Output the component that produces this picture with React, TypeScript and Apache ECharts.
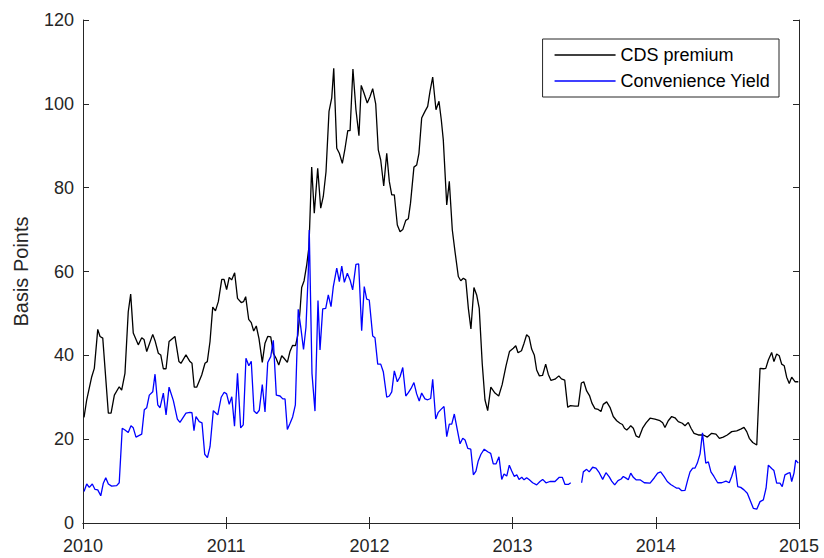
import React, { useEffect, useRef } from "react";
import * as echarts from "echarts";

const xTickYears = [2010, 2011, 2012, 2013, 2014, 2015];
const yTickValues = [0, 20, 40, 60, 80, 100, 120];
const seriesNames = ["CDS premium", "Convenience Yield"];
const yAxisTitle = "Basis Points";

// [decimal year, basis points]
const cdsPremium: [number, number][] = [
  [2010.007, 25.2], [2010.026, 29.4], [2010.061, 34.9], [2010.079, 36.9], [2010.103, 46.2],
  [2010.119, 44.5], [2010.138, 44.1], [2010.177, 26.2], [2010.196, 26.2], [2010.219, 30.5],
  [2010.253, 32.5], [2010.270, 31.7], [2010.293, 35.7], [2010.316, 50.4], [2010.333, 54.6],
  [2010.351, 45.3], [2010.386, 42.5], [2010.410, 44.2], [2010.426, 43.8], [2010.445, 40.9],
  [2010.487, 45.0], [2010.503, 43.5], [2010.526, 40.5], [2010.543, 40.1], [2010.561, 36.8],
  [2010.580, 36.8], [2010.601, 43.3], [2010.642, 44.5], [2010.670, 38.5], [2010.684, 38.1],
  [2010.719, 40.1], [2010.747, 38.5], [2010.761, 38.1], [2010.777, 32.4], [2010.794, 32.4],
  [2010.829, 35.3], [2010.852, 38.1], [2010.868, 38.5], [2010.887, 43.3], [2010.906, 51.5],
  [2010.925, 50.6], [2010.945, 52.8], [2010.969, 58.1], [2010.985, 58.1], [2011.003, 55.7],
  [2011.021, 58.6], [2011.038, 58.0], [2011.059, 59.7], [2011.079, 53.6], [2011.105, 52.6],
  [2011.121, 52.8], [2011.136, 54.0], [2011.157, 48.6], [2011.175, 47.8], [2011.192, 45.8],
  [2011.210, 47.0], [2011.229, 44.0], [2011.252, 38.3], [2011.271, 42.9], [2011.290, 44.5],
  [2011.311, 44.4], [2011.329, 40.5], [2011.348, 39.3], [2011.367, 37.7], [2011.388, 39.9],
  [2011.404, 39.3], [2011.427, 38.3], [2011.446, 41.0], [2011.464, 42.4], [2011.484, 42.3],
  [2011.500, 44.8], [2011.515, 50.4], [2011.527, 56.2], [2011.544, 57.8], [2011.562, 61.5],
  [2011.578, 65.9], [2011.597, 84.9], [2011.615, 73.9], [2011.639, 84.6], [2011.660, 75.1],
  [2011.678, 77.9], [2011.697, 83.8], [2011.718, 98.2], [2011.737, 101.4], [2011.751, 108.5],
  [2011.772, 89.4], [2011.790, 88.2], [2011.811, 85.8], [2011.830, 89.4], [2011.849, 93.6],
  [2011.865, 93.6], [2011.885, 108.3], [2011.906, 98.6], [2011.927, 92.4], [2011.943, 104.4],
  [2011.962, 102.6], [2011.985, 100.2], [2012.004, 101.7], [2012.023, 103.6], [2012.044, 100.0],
  [2012.062, 89.0], [2012.079, 86.6], [2012.100, 80.4], [2012.121, 88.2], [2012.139, 81.5],
  [2012.156, 78.3], [2012.174, 78.3], [2012.195, 71.1], [2012.214, 69.5], [2012.233, 70.0],
  [2012.254, 72.2], [2012.272, 72.6], [2012.287, 76.3], [2012.311, 84.9], [2012.330, 85.4],
  [2012.346, 88.2], [2012.365, 96.6], [2012.388, 98.2], [2012.407, 99.4], [2012.423, 102.9],
  [2012.442, 106.4], [2012.465, 98.6], [2012.486, 100.6], [2012.502, 96.2], [2012.516, 91.4],
  [2012.540, 75.9], [2012.558, 81.5], [2012.579, 69.9], [2012.598, 64.7], [2012.621, 58.8],
  [2012.638, 57.8], [2012.656, 58.4], [2012.673, 58.0], [2012.691, 51.2], [2012.709, 46.3],
  [2012.730, 56.2], [2012.749, 54.4], [2012.767, 51.2], [2012.788, 38.0], [2012.807, 29.4],
  [2012.826, 26.8], [2012.848, 32.4], [2012.877, 31.0], [2012.903, 30.3], [2012.927, 33.0],
  [2012.954, 37.5], [2012.978, 40.9], [2013.005, 41.7], [2013.022, 42.3], [2013.038, 40.6],
  [2013.062, 41.1], [2013.080, 42.9], [2013.098, 44.9], [2013.115, 44.4], [2013.133, 41.5],
  [2013.152, 40.0], [2013.168, 36.5], [2013.187, 35.1], [2013.209, 35.2], [2013.231, 37.9],
  [2013.249, 35.5], [2013.268, 34.0], [2013.296, 34.3], [2013.323, 35.1], [2013.341, 34.4],
  [2013.364, 34.1], [2013.385, 27.6], [2013.404, 28.0], [2013.436, 27.9], [2013.459, 27.9],
  [2013.480, 33.4], [2013.497, 33.7], [2013.517, 31.5], [2013.537, 30.4], [2013.554, 28.6],
  [2013.575, 27.3], [2013.598, 27.1], [2013.617, 26.6], [2013.633, 28.3], [2013.657, 28.9],
  [2013.680, 27.6], [2013.703, 25.4], [2013.727, 24.4], [2013.750, 23.8], [2013.767, 23.5],
  [2013.781, 22.6], [2013.797, 22.2], [2013.815, 22.8], [2013.825, 23.2], [2013.843, 22.6],
  [2013.862, 20.8], [2013.883, 20.4], [2013.909, 22.7], [2013.932, 23.9], [2013.960, 25.0],
  [2013.994, 24.8], [2014.029, 24.4], [2014.048, 23.9], [2014.064, 22.8], [2014.087, 24.4],
  [2014.111, 25.4], [2014.134, 25.1], [2014.157, 24.2], [2014.185, 23.8], [2014.204, 23.2],
  [2014.227, 24.0], [2014.246, 22.6], [2014.267, 21.4], [2014.297, 21.0], [2014.332, 21.0],
  [2014.360, 20.5], [2014.390, 21.4], [2014.420, 21.2], [2014.444, 20.2], [2014.471, 20.5],
  [2014.499, 21.0], [2014.530, 21.8], [2014.565, 22.0], [2014.593, 22.4], [2014.616, 22.8],
  [2014.635, 21.8], [2014.653, 20.2], [2014.677, 19.2], [2014.705, 18.6], [2014.728, 36.9],
  [2014.751, 36.8], [2014.768, 36.9], [2014.786, 38.9], [2014.809, 40.7], [2014.825, 38.5],
  [2014.844, 40.3], [2014.862, 39.9], [2014.879, 37.9], [2014.897, 37.5], [2014.914, 34.8],
  [2014.932, 33.3], [2014.949, 34.8], [2014.972, 33.7], [2014.995, 33.7],
];

// null marks the gap in the series
const convenienceYield: [number, number | null][] = [
  [2010.007, 7.5], [2010.026, 9.3], [2010.044, 8.5], [2010.065, 9.3], [2010.084, 8.0],
  [2010.103, 7.9], [2010.124, 6.5], [2010.142, 9.5], [2010.159, 10.8], [2010.177, 9.3],
  [2010.200, 8.8], [2010.235, 8.9], [2010.253, 9.6], [2010.274, 22.6], [2010.293, 22.2],
  [2010.316, 21.6], [2010.335, 23.2], [2010.351, 22.7], [2010.370, 20.5], [2010.410, 21.2],
  [2010.428, 27.0], [2010.445, 27.5], [2010.463, 30.5], [2010.487, 31.3], [2010.503, 35.5],
  [2010.522, 28.2], [2010.538, 27.5], [2010.561, 31.0], [2010.580, 25.8], [2010.601, 32.4],
  [2010.631, 29.2], [2010.659, 24.8], [2010.677, 24.0], [2010.719, 26.2], [2010.747, 26.4],
  [2010.761, 26.3], [2010.775, 22.0], [2010.789, 25.4], [2010.812, 24.2], [2010.831, 23.9],
  [2010.850, 16.4], [2010.869, 15.6], [2010.887, 18.2], [2010.910, 26.8], [2010.941, 25.8],
  [2010.965, 30.0], [2010.986, 31.2], [2011.003, 30.8], [2011.021, 28.3], [2011.039, 30.1],
  [2011.058, 23.1], [2011.079, 35.7], [2011.101, 22.7], [2011.119, 23.4], [2011.138, 39.3],
  [2011.158, 37.5], [2011.175, 38.6], [2011.194, 26.7], [2011.213, 26.1], [2011.231, 26.9],
  [2011.252, 33.0], [2011.271, 26.5], [2011.290, 38.3], [2011.311, 39.7], [2011.329, 43.6],
  [2011.350, 30.5], [2011.376, 30.3], [2011.395, 29.6], [2011.411, 29.6], [2011.427, 22.3],
  [2011.446, 23.8], [2011.464, 25.3], [2011.483, 28.2], [2011.503, 51.0], [2011.520, 46.9],
  [2011.540, 41.4], [2011.557, 46.7], [2011.573, 59.6], [2011.580, 69.9], [2011.599, 35.7],
  [2011.620, 26.7], [2011.641, 53.1], [2011.655, 41.3], [2011.674, 51.1], [2011.695, 51.2],
  [2011.713, 54.4], [2011.732, 51.6], [2011.748, 56.4], [2011.772, 60.8], [2011.790, 57.6],
  [2011.807, 61.3], [2011.825, 57.4], [2011.846, 59.6], [2011.865, 58.0], [2011.883, 55.6],
  [2011.906, 61.7], [2011.925, 61.8], [2011.946, 45.9], [2011.964, 56.4], [2011.981, 53.4],
  [2011.999, 53.2], [2012.023, 44.6], [2012.039, 44.2], [2012.058, 37.9], [2012.079, 37.9],
  [2012.097, 36.1], [2012.121, 30.0], [2012.139, 30.3], [2012.156, 31.3], [2012.174, 36.3],
  [2012.195, 33.7], [2012.214, 34.9], [2012.233, 37.1], [2012.254, 30.3], [2012.272, 31.1],
  [2012.291, 32.1], [2012.311, 33.5], [2012.330, 30.8], [2012.348, 29.1], [2012.365, 31.0],
  [2012.388, 29.6], [2012.407, 29.4], [2012.428, 29.7], [2012.442, 34.3], [2012.463, 24.8],
  [2012.481, 26.4], [2012.500, 27.1], [2012.521, 27.8], [2012.540, 20.6], [2012.558, 23.6],
  [2012.575, 23.6], [2012.593, 26.0], [2012.614, 22.2], [2012.633, 18.9], [2012.652, 20.2],
  [2012.668, 19.8], [2012.687, 17.8], [2012.708, 17.6], [2012.726, 11.5], [2012.744, 12.4],
  [2012.760, 14.8], [2012.779, 16.4], [2012.802, 17.6], [2012.826, 17.0], [2012.847, 16.6],
  [2012.865, 14.1], [2012.884, 14.1], [2012.905, 15.8], [2012.924, 10.4], [2012.940, 11.7],
  [2012.959, 11.2], [2012.977, 13.8], [2012.994, 12.4], [2013.012, 11.1], [2013.029, 11.5],
  [2013.045, 10.4], [2013.064, 10.9], [2013.080, 10.3], [2013.098, 10.8], [2013.117, 10.3],
  [2013.140, 9.6], [2013.168, 9.1], [2013.191, 9.9], [2013.210, 10.4], [2013.233, 9.6],
  [2013.261, 9.9], [2013.296, 9.9], [2013.326, 10.9], [2013.347, 10.9], [2013.366, 9.2],
  [2013.389, 9.2], [2013.406, 9.6], [2013.440, null], [2013.482, 9.6], [2013.494, 12.2],
  [2013.517, 12.8], [2013.535, 12.2], [2013.559, 13.3], [2013.582, 13.1], [2013.605, 12.0],
  [2013.629, 10.4], [2013.652, 12.0], [2013.675, 11.0], [2013.692, 10.0], [2013.713, 9.1],
  [2013.736, 10.1], [2013.758, 10.5], [2013.773, 11.1], [2013.792, 10.7], [2013.808, 10.3],
  [2013.825, 11.9], [2013.843, 10.9], [2013.862, 10.3], [2013.890, 10.3], [2013.920, 9.6],
  [2013.960, 9.5], [2013.990, 10.8], [2014.013, 11.9], [2014.034, 12.2], [2014.057, 11.1],
  [2014.080, 9.9], [2014.104, 9.2], [2014.127, 8.7], [2014.146, 8.3], [2014.162, 8.3],
  [2014.181, 7.7], [2014.204, 7.8], [2014.223, 10.3], [2014.239, 12.2], [2014.258, 13.1],
  [2014.274, 13.1], [2014.290, 14.3], [2014.309, 16.5], [2014.326, 21.5], [2014.349, 14.3],
  [2014.367, 14.6], [2014.385, 12.2], [2014.406, 11.1], [2014.432, 9.6], [2014.460, 9.6],
  [2014.490, 10.0], [2014.513, 9.6], [2014.530, 11.1], [2014.553, 13.7], [2014.572, 8.7],
  [2014.593, 8.5], [2014.616, 7.9], [2014.639, 7.1], [2014.658, 5.5], [2014.681, 3.5],
  [2014.705, 3.3], [2014.728, 5.1], [2014.751, 5.5], [2014.770, 8.3], [2014.786, 13.8],
  [2014.809, 13.0], [2014.825, 12.5], [2014.844, 9.5], [2014.867, 9.5], [2014.883, 8.7],
  [2014.902, 11.5], [2014.925, 11.9], [2014.937, 12.0], [2014.949, 9.9], [2014.965, 11.9],
  [2014.977, 15.0], [2014.995, 14.3],
];

const FONT = "'Liberation Sans', Arial, Helvetica, sans-serif";
const AXIS_COLOR = "#262626";

export default function App() {
  const ref = useRef<HTMLDivElement>(null);

  useEffect(() => {
    if (!ref.current) return;
    const chart = echarts.init(ref.current, undefined, { renderer: "svg" });
    const xMin = xTickYears[0];
    const xMax = xTickYears[xTickYears.length - 1];
    const xInterval = xTickYears[1] - xTickYears[0];
    const yMin = yTickValues[0];
    const yMax = yTickValues[yTickValues.length - 1];
    const yInterval = yTickValues[1] - yTickValues[0];

    const baseX = {
      type: "value" as const,
      min: xMin,
      max: xMax,
      interval: xInterval,
      splitLine: { show: false },
      axisLine: { show: true, lineStyle: { color: AXIS_COLOR, width: 1 } },
      axisTick: { show: true, inside: true, length: 6, lineStyle: { color: AXIS_COLOR } },
    };
    const baseY = {
      type: "value" as const,
      min: yMin,
      max: yMax,
      interval: yInterval,
      splitLine: { show: false },
      axisLine: { show: true, lineStyle: { color: AXIS_COLOR, width: 1 } },
      axisTick: { show: true, inside: true, length: 6, lineStyle: { color: AXIS_COLOR } },
    };

    chart.setOption({
      animation: false,
      backgroundColor: "#ffffff",
      textStyle: { fontFamily: FONT },
      grid: { left: 83, right: 25, top: 20, bottom: 35, containLabel: false },
      legend: {
        data: seriesNames,
        orient: "vertical",
        right: 45,
        top: 39,
        icon: "rect",
        itemWidth: 61,
        itemHeight: 1.4,
        itemGap: 8,
        padding: [7, 9, 7, 12],
        borderColor: AXIS_COLOR,
        borderWidth: 1,
        backgroundColor: "#ffffff",
        textStyle: { fontFamily: FONT, fontSize: 18, color: "#000000", lineHeight: 18 },
      },
      xAxis: [
        {
          ...baseX,
          position: "bottom",
          axisLabel: {
            show: true,
            margin: 14,
            fontSize: 18,
            color: AXIS_COLOR,
            fontFamily: FONT,
            formatter: (v: number) => String(Math.round(v)),
          },
        },
        { ...baseX, position: "top", axisLabel: { show: false } },
      ],
      yAxis: [
        {
          ...baseY,
          position: "left",
          name: yAxisTitle,
          nameLocation: "middle",
          nameRotate: 90,
          nameGap: 52,
          nameTextStyle: { fontSize: 20, color: AXIS_COLOR, fontFamily: FONT },
          axisLabel: { show: true, margin: 9, fontSize: 18, color: AXIS_COLOR, fontFamily: FONT },
        },
        { ...baseY, position: "right", axisLabel: { show: false } },
      ],
      series: [
        {
          name: seriesNames[0],
          type: "line",
          xAxisIndex: 0,
          yAxisIndex: 0,
          symbol: "none",
          color: "#000000",
          lineStyle: { color: "#000000", width: 1.3 },
          data: cdsPremium,
        },
        {
          name: seriesNames[1],
          type: "line",
          xAxisIndex: 0,
          yAxisIndex: 0,
          symbol: "none",
          connectNulls: false,
          color: "#0000ff",
          lineStyle: { color: "#0000ff", width: 1.3 },
          data: convenienceYield.map(([x, y]) => [x, y === null ? "-" : y]),
        },
      ],
    });

    return () => chart.dispose();
  }, []);

  return (
    <div
      ref={ref}
      style={{ position: "fixed", left: 0, top: 0, width: 824, height: 558, background: "#fff" }}
    />
  );
}
